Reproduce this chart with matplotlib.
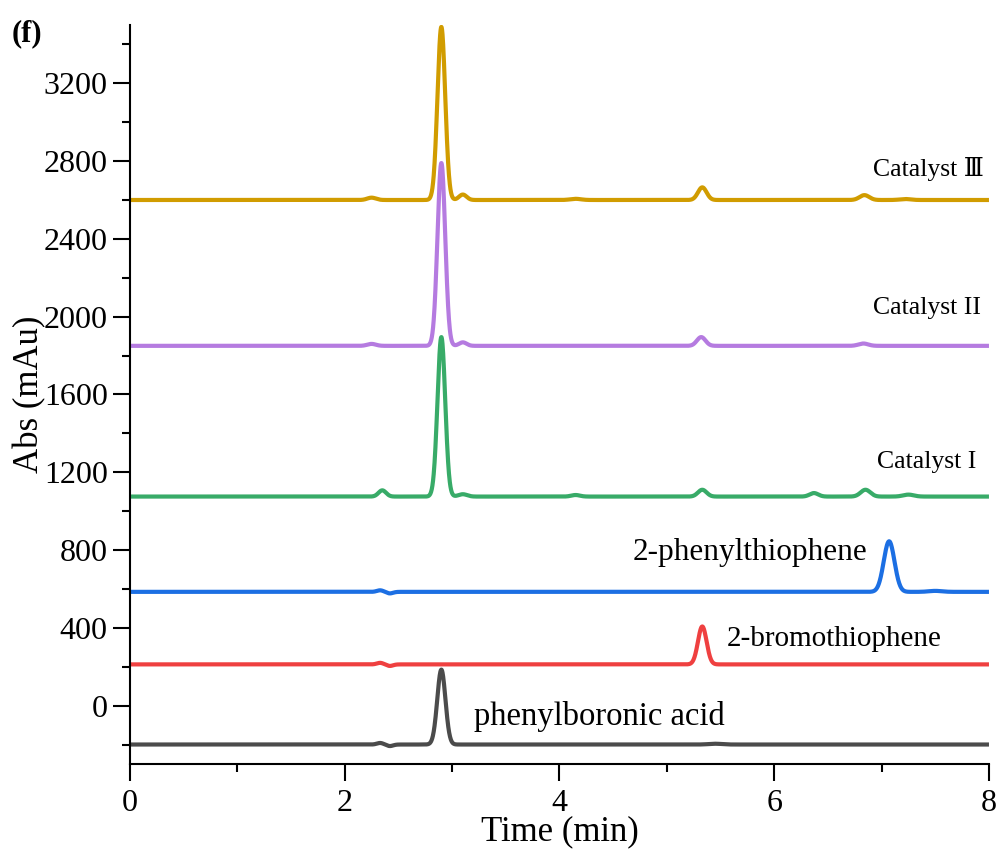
import numpy as np
import matplotlib
matplotlib.use("Agg")
import matplotlib.pyplot as plt
from matplotlib.ticker import MultipleLocator

plt.rcParams["font.family"] = ["Liberation Serif", "DejaVu Serif"]

#
# data
#
names = ["phenylboronic acid", "2-bromothiophene", "2-phenylthiophene",
         "Catalyst I", "Catalyst II", "Catalyst \u2162"]
colors = ["#4b4b4b", "#ef4040", "#1c6fe3", "#38ab68", "#b57be0", "#d19c00"]

baselines = [-200, 212, 585, 1075, 1850, 2600]

# peak retention time (min), height (mAu), width sigma (min)
gray_rt = [2.33, 2.42, 2.90, 5.45]
gray_h = [8, -8, 385, 4]
gray_w = [0.03, 0.03, 0.038, 0.06]

red_rt = [2.33, 2.42, 5.33]
red_h = [8, -8, 195]
red_w = [0.03, 0.03, 0.04]

blue_rt = [2.33, 2.42, 7.07, 7.50]
blue_h = [8, -8, 260, 5]
blue_w = [0.03, 0.03, 0.05, 0.06]

green_rt = [2.35, 2.90, 3.10, 4.15, 5.33, 6.37, 6.85, 7.25]
green_h = [32, 820, 12, 8, 35, 18, 35, 10]
green_w = [0.035, 0.036, 0.04, 0.04, 0.04, 0.04, 0.045, 0.05]

purple_rt = [2.25, 2.90, 3.10, 5.32, 6.83]
purple_h = [10, 940, 18, 45, 12]
purple_w = [0.04, 0.036, 0.035, 0.04, 0.045]

gold_rt = [2.25, 2.90, 3.10, 4.15, 5.33, 6.84, 7.22]
gold_h = [12, 890, 28, 6, 65, 25, 5]
gold_w = [0.04, 0.036, 0.035, 0.05, 0.04, 0.045, 0.05]

peaks = [(gray_rt, gray_h, gray_w), (red_rt, red_h, red_w),
         (blue_rt, blue_h, blue_w), (green_rt, green_h, green_w),
         (purple_rt, purple_h, purple_w), (gold_rt, gold_h, gold_w)]

# label positions and sizes
label_x = [3.20, 5.56, 4.68, 6.96, 6.92, 6.92]
label_y = [-55, 345, 785, 1255, 2045, 2760]
label_size = [23.5, 21, 22.5, 18.5, 18.5, 18.5]

t = np.linspace(0, 8, 4000)

fig = plt.figure(figsize=(10.02, 8.58), dpi=100)
ax = fig.add_axes([0.1297, 0.1096, 0.8573, 0.8613])

for i in range(len(names)):
    rt, h, w = peaks[i]
    y = np.full_like(t, baselines[i], dtype=float)
    for c, a, s in zip(rt, h, w):
        y += a * np.exp(-0.5 * ((t - c) / s) ** 2)
    ax.plot(t, y, color=colors[i], lw=3.0, solid_capstyle="butt")
    ax.text(label_x[i], label_y[i], names[i], fontsize=label_size[i],
            va="center", ha="left",
            family=["Liberation Serif", "DejaVu Serif"])

ax.set_xlim(0, 8)
ax.set_ylim(-300, 3500)

ax.xaxis.set_major_locator(MultipleLocator(2))
ax.xaxis.set_minor_locator(MultipleLocator(1))
ax.yaxis.set_major_locator(MultipleLocator(400))
ax.yaxis.set_minor_locator(MultipleLocator(200))

ax.spines["top"].set_visible(False)
ax.spines["right"].set_visible(False)
for s in ["left", "bottom"]:
    ax.spines[s].set_linewidth(1.5)

ax.tick_params(which="major", length=12, width=1.5, labelsize=23, direction="out")
ax.tick_params(which="minor", length=6, width=1.5, direction="out")
ax.tick_params(axis="y", pad=4)
ax.tick_params(axis="x", pad=6)

ax.set_yticks(np.arange(0, 3201, 400))

ax.set_xlabel("Time (min)", fontsize=25, labelpad=-2)
ax.set_ylabel("Abs (mAu)", fontsize=25, labelpad=-2)

fig.text(0.012, 0.952, "(f)", fontsize=22, fontweight="bold")

fig.savefig("out.png", dpi=100)
